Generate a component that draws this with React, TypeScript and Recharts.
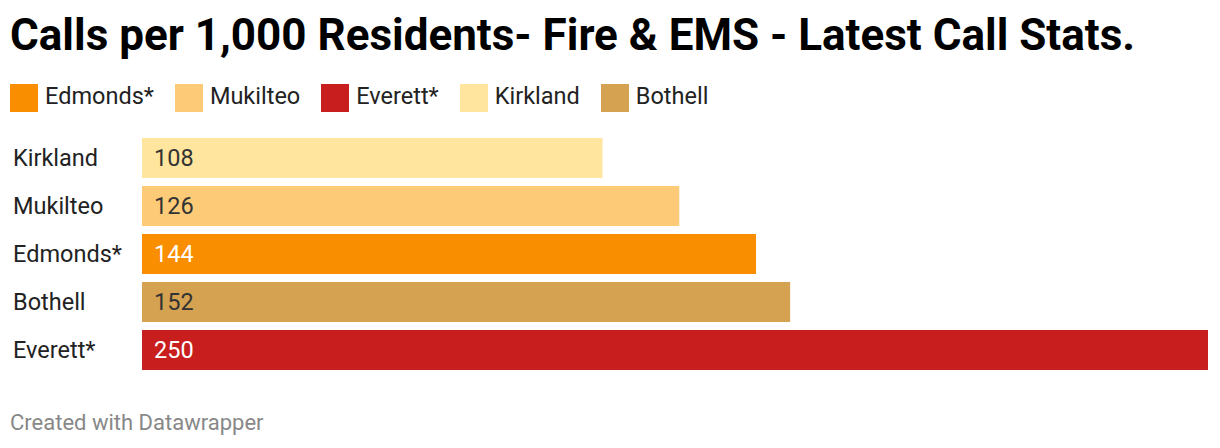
import { BarChart, Bar, XAxis, YAxis, Cell, LabelList } from 'recharts';

const cities = ['Kirkland', 'Mukilteo', 'Edmonds*', 'Bothell', 'Everett*'];
const callsPer1000 = [108, 126, 144, 152, 250];
const legendOrder = ['Edmonds*', 'Mukilteo', 'Everett*', 'Kirkland', 'Bothell'];

// Colors per city
const CITY_COLORS: Record<string, string> = {
  'Edmonds*': '#F98E00',
  Mukilteo: '#FDCB78',
  'Everett*': '#C81E1E',
  Kirkland: '#FFE59E',
  Bothell: '#D4A251',
};
const DARK_BARS = ['Edmonds*', 'Everett*'];

const FONT = 'Roboto, "Noto Sans", sans-serif';

const data = cities.map((name, i) => ({ name, value: callsPer1000[i] }));

function CategoryTick({ y, payload }: any) {
  return (
    <text x={13} y={y} dy="0.36em" textAnchor="start" fontSize={23.5} fill="#222" fontFamily={FONT}>
      {payload.value}
    </text>
  );
}

function ValueLabel({ x, y, height, value, index }: any) {
  const city = cities[index];
  return (
    <text
      x={x + 12}
      y={y + height / 2}
      dy="0.36em"
      fontSize={23.5}
      fontFamily={FONT}
      fill={DARK_BARS.includes(city) ? '#FFFFFF' : '#333333'}
    >
      {value}
    </text>
  );
}

export default function App() {
  return (
    <div style={{ position: 'absolute', left: 0, top: 0, width: 1220, height: 448, background: '#fff', fontFamily: FONT }}>
      <div style={{ position: 'absolute', left: 10, top: 11, fontSize: 44, fontWeight: 700, color: '#000', lineHeight: '48px', whiteSpace: 'nowrap' }}>
        Calls per 1,000 Residents- Fire &amp; EMS - Latest Call Stats.
      </div>
      <div style={{ position: 'absolute', left: 10, top: 84, display: 'flex', alignItems: 'center' }}>
        {legendOrder.map(name => (
          <div key={name} style={{ display: 'flex', alignItems: 'center', marginRight: 21 }}>
            <div style={{ width: 28, height: 28, background: CITY_COLORS[name], marginRight: 7 }} />
            <span style={{ fontSize: 23.5, color: '#222', lineHeight: '28px', position: 'relative', top: -2 }}>{name}</span>
          </div>
        ))}
      </div>
      <div style={{ position: 'absolute', left: 0, top: 0 }}>
        <BarChart
          width={1220}
          height={400}
          data={data}
          layout="vertical"
          margin={{ top: 134, right: 12, left: 0, bottom: 26 }}
        >
          <XAxis type="number" domain={[0, 250]} hide />
          <YAxis
            type="category"
            dataKey="name"
            width={142}
            axisLine={false}
            tickLine={false}
            tick={<CategoryTick />}
          />
          <Bar dataKey="value" barSize={40} isAnimationActive={false}>
            {data.map((entry, index) => (
              <Cell key={`cell-${index}`} fill={CITY_COLORS[entry.name]} />
            ))}
            <LabelList dataKey="value" content={<ValueLabel />} />
          </Bar>
        </BarChart>
      </div>
      <div style={{ position: 'absolute', left: 10, top: 410, fontSize: 22, color: '#888', whiteSpace: 'nowrap' }}>
        Created with Datawrapper
      </div>
    </div>
  );
}
